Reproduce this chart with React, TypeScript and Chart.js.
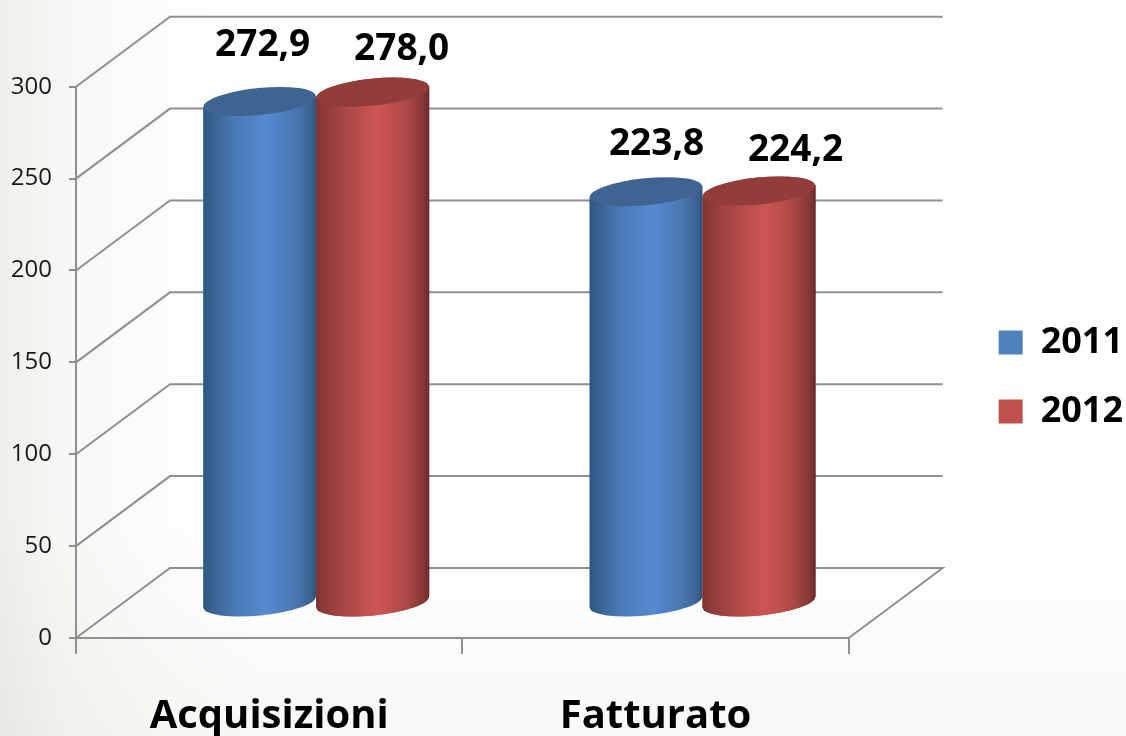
import React, { useEffect, useRef } from "react";
import { Chart, BarController, BarElement, registerables } from "chart.js";

const categories = ["Acquisizioni", "Fatturato"];
const seriesNames = ["2011", "2012"];
const values2011 = [272.9, 223.8];
const values2012 = [278.0, 224.2];
const yTickStep = 50;
const yTop = 300;

const BLUE = "#4f81bd";
const RED = "#c0504d";
const GRID = "#8f8f8f";
const FONT = "Open Sans";
const DEPTH_X = 94;
const DEPTH_Y = -70;
// nudges of the value labels from the top of each bar, [series][category]
const labelNudges = [
  [[50, -91], [57.5, -82]],
  [[76, -78], [83.5, -76]],
];

const bodyStops: Record<string, [number, string][]> = {
  [BLUE]: [[0, "#2f5680"], [0.08, "#38618f"], [0.28, "#4a7ab5"], [0.55, "#568ad0"], [0.8, "#4a79b4"], [0.95, "#3c6392"], [1, "#2f5278"]],
  [RED]: [[0, "#7f3332"], [0.08, "#8e3b39"], [0.3, "#b04a47"], [0.55, "#cd5654"], [0.8, "#ad4946"], [0.95, "#843634"], [1, "#6d2b2a"]],
};
const capColor: Record<string, string> = { [BLUE]: "#3f6491", [RED]: "#923d3a" };

class CylinderElement extends BarElement {
  static id = "cylinder";
  draw(ctx: CanvasRenderingContext2D) {
    const el: any = this;
    const color = el.options.backgroundColor;
    const rx = el.width / 2;
    const ry = 13.5;
    const tilt = -0.1;
    const cx = el.x + DEPTH_X / 2;
    const top = el.y + DEPTH_Y / 2;
    const bottom = el.base + DEPTH_Y / 2;
    const rise = rx * Math.sin(-tilt);
    const g = ctx.createLinearGradient(cx - rx, 0, cx + rx, 0);
    bodyStops[color].forEach(([o, c]) => g.addColorStop(o, c));
    ctx.save();
    ctx.fillStyle = g;
    ctx.beginPath();
    ctx.ellipse(cx, bottom, rx, ry, tilt, 0, Math.PI * 2);
    ctx.fill();
    ctx.beginPath();
    ctx.moveTo(cx - rx, top + rise);
    ctx.lineTo(cx + rx, top - rise);
    ctx.lineTo(cx + rx, bottom - rise);
    ctx.lineTo(cx - rx, bottom + rise);
    ctx.closePath();
    ctx.fill();
    ctx.fillStyle = capColor[color];
    ctx.beginPath();
    ctx.ellipse(cx, top, rx, ry, tilt, 0, Math.PI * 2);
    ctx.fill();
    ctx.restore();
  }
}

class CylinderController extends BarController {
  static id = "cylinder";
  static defaults = { ...(BarController as any).defaults, dataElementType: "cylinder" };
  static overrides = (BarController as any).overrides;
}

Chart.register(...registerables, CylinderElement as any, CylinderController as any);

const walls = {
  id: "walls",
  beforeDatasetsDraw(chart: any) {
    const { ctx, scales } = chart;
    const y = scales.y;
    const left = chart.chartArea.left;
    const right = chart.chartArea.right;
    ctx.save();
    ctx.strokeStyle = GRID;
    ctx.lineWidth = 2;
    y.ticks.forEach((t: any) => {
      const py = y.getPixelForValue(t.value);
      ctx.beginPath();
      ctx.moveTo(left, py);
      ctx.lineTo(left + DEPTH_X, py + DEPTH_Y);
      ctx.lineTo(right + DEPTH_X, py + DEPTH_Y);
      if (t.value === 0) ctx.lineTo(right, py);
      ctx.stroke();
    });
    ctx.beginPath();
    ctx.moveTo(left, y.getPixelForValue(0));
    ctx.lineTo(left, y.getPixelForValue(yTop));
    ctx.stroke();
    ctx.restore();
  },
};

const valueLabels = {
  id: "valueLabels",
  afterDatasetsDraw(chart: any) {
    const { ctx } = chart;
    // the later series sits in front of the earlier one
    chart.getDatasetMeta(chart.data.datasets.length - 1).data.forEach((bar: any) => bar.draw(ctx));
    ctx.save();
    ctx.font = `bold 37px "${FONT}"`;
    ctx.fillStyle = "#000";
    ctx.textAlign = "center";
    ctx.textBaseline = "middle";
    chart.data.datasets.forEach((ds: any, i: number) => {
      chart.getDatasetMeta(i).data.forEach((bar: any, j: number) => {
        const [dx, dy] = labelNudges[i][j];
        ctx.fillText(ds.data[j].toFixed(1).replace(".", ","), bar.x + dx, bar.y + dy);
      });
    });
    ctx.restore();
  },
};

export default function App() {
  const ref = useRef<HTMLCanvasElement>(null);
  useEffect(() => {
    const chart = new Chart(ref.current as any, {
      type: "cylinder" as any,
      data: {
        labels: categories,
        datasets: [
          { label: seriesNames[0], data: values2011, backgroundColor: BLUE, categoryPercentage: 0.585, barPercentage: 1 },
          { label: seriesNames[1], data: values2012, backgroundColor: RED, categoryPercentage: 0.585, barPercentage: 1 },
        ] as any,
      },
      options: {
        responsive: false,
        animation: false,
        layout: { autoPadding: false, padding: { top: 0, right: -7, bottom: -18, left: 0 } },
        plugins: {
          title: { display: false },
          tooltip: { enabled: false },
          legend: {
            display: true,
            position: "right",
            labels: {
              boxWidth: 24,
              boxHeight: 24,
              padding: 33,
              color: "#000",
              font: { family: FONT, size: 36, weight: "bold" },
            },
          },
        },
        scales: {
          x: {
            type: "category",
            offset: true,
            grid: { offset: true, drawOnChartArea: false, color: GRID, lineWidth: 2, tickLength: 16, tickColor: GRID },
            border: { display: true, color: GRID, width: 2 },
            ticks: { padding: 39, color: "#000", font: { family: FONT, size: 40, weight: "bold" }, maxRotation: 0, autoSkip: false },
            afterFit: (s: any) => { s.height = 116; },
          },
          y: {
            min: 0,
            max: 330.1,
            grid: { drawOnChartArea: false, color: GRID, lineWidth: 2, tickLength: 7, tickColor: GRID },
            border: { display: false },
            ticks: { stepSize: yTickStep, includeBounds: false, padding: 17, color: "#1a1a1a", font: { family: FONT, size: 24 } },
            afterFit: (s: any) => { s.width = 76; },
          },
          y2: {
            position: "right",
            display: true,
            grid: { display: false },
            border: { display: false },
            ticks: { display: false },
            afterFit: (s: any) => { s.width = 117; },
          },
        },
      } as any,
      plugins: [walls, valueLabels],
    });
    return () => chart.destroy();
  }, []);
  return (
    <div
      style={{
        position: "fixed",
        left: 0,
        top: 0,
        width: 1126,
        height: 736,
        backgroundImage:
          "linear-gradient(to right, #efefeb 0px, #f7f7f5 60px, #fcfcfb 150px, #ffffff 260px), linear-gradient(to bottom, #ffffff 0px, #ffffff 520px, #f8f8f6 736px)",
        backgroundBlendMode: "multiply",
      }}
    >
      <canvas ref={ref} width={1126} height={736} style={{ display: "block" }} />
    </div>
  );
}
